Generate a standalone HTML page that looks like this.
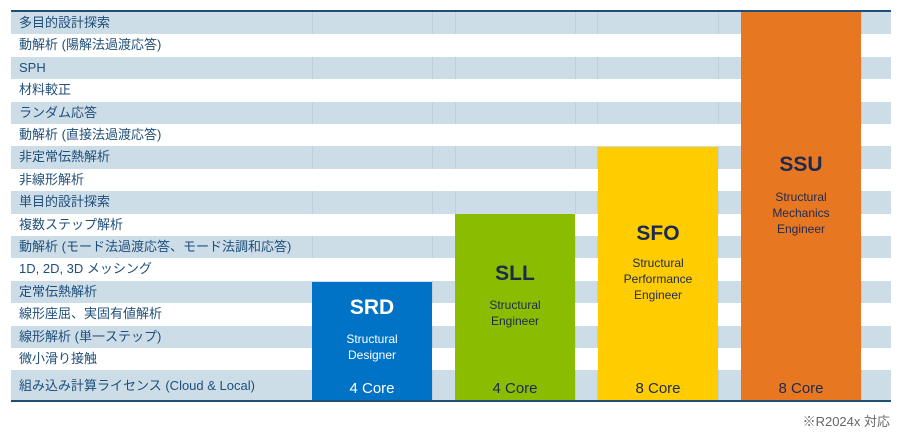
<!DOCTYPE html>
<html><head><meta charset="utf-8"><style>
body{margin:0;width:902px;height:435px;background:#fff;position:relative;overflow:hidden;font-family:"Liberation Sans","Noto Sans CJK JP",sans-serif}
.r{position:absolute;left:11px;width:880px;height:22.4px;font-size:13px;color:#1f4e79;line-height:22.4px;box-sizing:border-box;padding-left:8px;background:#fff;z-index:2}
.b{background:#cddde8;z-index:0}
.v{position:absolute;top:12px;height:389px;width:1px;background:#bcd0de;z-index:1}
.bar{position:absolute;width:120px;bottom:34px;text-align:center;z-index:3}
.bar h{display:block;font-weight:bold;font-size:21px}
.bar s{text-decoration:none;display:block;font-size:12px;line-height:16px}
.bar c{position:absolute;left:0;right:0;bottom:4px;font-size:15px}
</style></head><body>
<div style="position:absolute;left:11px;top:10px;width:880px;height:2px;background:#1f4e79;z-index:4"></div>
<div class="r b" style="top:12px">多目的設計探索</div>
<div class="r" style="top:34.4px">動解析 (陽解法過渡応答)</div>
<div class="r b" style="top:56.8px">SPH</div>
<div class="r" style="top:79.2px">材料較正</div>
<div class="r b" style="top:101.6px">ランダム応答</div>
<div class="r" style="top:124px">動解析 (直接法過渡応答)</div>
<div class="r b" style="top:146.4px">非定常伝熱解析</div>
<div class="r" style="top:168.8px">非線形解析</div>
<div class="r b" style="top:191.2px">単目的設計探索</div>
<div class="r" style="top:213.6px">複数ステップ解析</div>
<div class="r b" style="top:236px">動解析 (モード法過渡応答、モード法調和応答)</div>
<div class="r" style="top:258.4px">1D, 2D, 3D メッシング</div>
<div class="r b" style="top:280.8px">定常伝熱解析</div>
<div class="r" style="top:303.2px">線形座屈、実固有値解析</div>
<div class="r b" style="top:325.6px">線形解析 (単一ステップ)</div>
<div class="r" style="top:348px">微小滑り接触</div>
<div class="r b" style="top:370.4px;height:30.6px;line-height:32px">組み込み計算ライセンス (Cloud &amp; Local)</div>
<div class="v" style="left:312px"></div><div class="v" style="left:432px"></div>
<div class="v" style="left:455px"></div><div class="v" style="left:575px"></div>
<div class="v" style="left:597px"></div><div class="v" style="left:718px"></div>
<div class="v" style="left:741px"></div><div class="v" style="left:861px"></div>
<div style="position:absolute;left:11px;top:400px;width:880px;height:2px;background:#1f4e79;z-index:4"></div>
<div class="bar" style="left:312px;top:282px;background:#0073c6;color:#fff"><h style="margin-top:14px">SRD</h><s style="margin-top:11px">Structural<br>Designer</s><c>4 Core</c></div>
<div class="bar" style="left:455px;top:214px;background:#8abd00;color:#1d2a50"><h style="margin-top:48px">SLL</h><s style="margin-top:11px">Structural<br>Engineer</s><c>4 Core</c></div>
<div class="bar" style="left:598px;top:147px;background:#ffcc00;color:#1d2a50"><h style="margin-top:75px">SFO</h><s style="margin-top:9px">Structural<br>Performance<br>Engineer</s><c>8 Core</c></div>
<div class="bar" style="left:741px;top:12px;background:#e87722;color:#1d2a50"><h style="margin-top:141px">SSU</h><s style="margin-top:12px">Structural<br>Mechanics<br>Engineer</s><c>8 Core</c></div>
<div style="position:absolute;right:12px;top:411px;font-size:13px;color:#666">※R2024x 対応</div>
</body></html>
